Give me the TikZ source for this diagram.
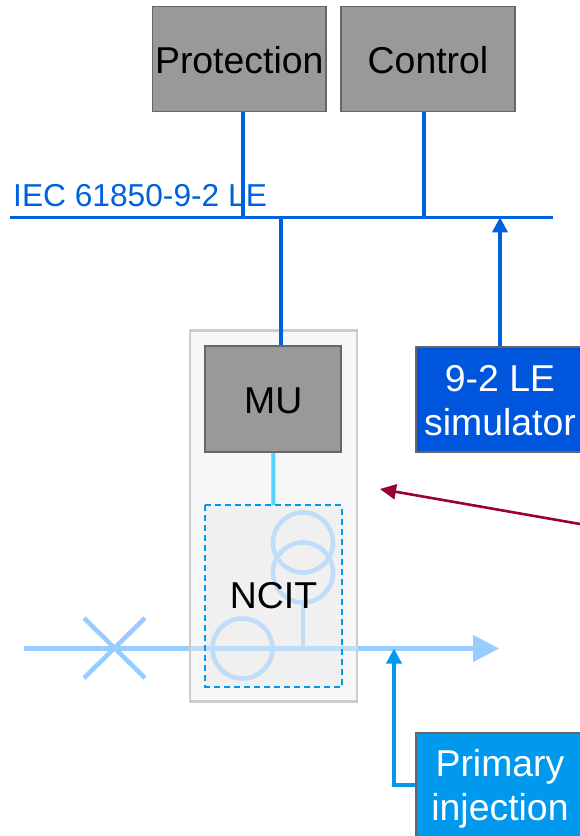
\documentclass[tikz,border=0pt]{standalone}
\usepackage{fontspec}
\setmainfont{Liberation Sans}
\usetikzlibrary{arrows.meta}
\definecolor{grayfill}{HTML}{999999}
\definecolor{grayline}{HTML}{666666}
\definecolor{busblue}{HTML}{0061E0}
\definecolor{simblue}{HTML}{0055DD}
\definecolor{injblue}{HTML}{0099EE}
\definecolor{lineblue}{HTML}{99CCFF}
\definecolor{lightline}{HTML}{BFDDF8}
\definecolor{cyanline}{HTML}{55D5FF}
\definecolor{maroon}{HTML}{990033}
\tikzset{
  x=1pt,y=-1pt,
  graybox/.style={draw=grayline,fill=grayfill,line width=1.8pt,inner sep=0pt,text=black,minimum width=#1,font=\fontsize{37.4}{40}\selectfont,text height=29pt,text depth=0pt},
  colorbox/.style={draw=grayline,fill=#1,line width=2pt,minimum width=168pt,inner sep=0pt},
  boxtext/.style={inner sep=0pt,text=white,align=center,font=\fontsize{37.4}{44}\selectfont},
  bus/.style={draw=busblue,line width=3.6pt},
  lt/.style={draw=lightline,line width=4.6pt},
  lb/.style={draw=lineblue,line width=4.6pt},
  ring/.style={circle,draw=lightline,line width=4.6pt,minimum size=60pt,inner sep=0pt},
  tri/.style={-{Triangle[length=15pt,width=15pt]}},
}
\begin{document}
\begin{tikzpicture}
\useasboundingbox (0,0) rectangle (580,836);
\clip (0,0) rectangle (580,836);
% line (strong colour outside the enclosure)
\coordinate (lineL) at (24,648.5);
\coordinate (lineR) at (499,648.5);
\coordinate (injT) at (394,648.5);
\draw[lb,-{Triangle[length=26pt,width=26pt,fill=lineblue]}] (lineL) -- (lineR);
\draw[lb] (84,618) -- (145,678);
\draw[lb] (145,618) -- (84,678);
% enclosure
\node[draw=black!20,fill=black!3,line width=1.6pt,minimum width=166pt,minimum height=370pt,inner sep=0pt] (encl) at (273.5,516) {};
\node[fill=black!6,minimum width=136pt,minimum height=181pt,inner sep=0pt] (ncit) at (273.5,596) {};
% veiled part of the line
\draw[lt] (encl.west |- lineL) -- (encl.east |- lineL);
\node[ring] (ct) at (242.5,648.5) {};
\node[ring] (vt1) at (303,542.5) {};
\node[ring] (vt2) at (303,572.5) {};
\draw[lt] (vt2.south) -- (303,648.5);
\draw[draw=injblue,dash pattern=on 6pt off 4pt,line width=2pt] (ncit.north west) rectangle (ncit.south east);
\draw[draw=black!20,line width=1.6pt] (encl.north west) rectangle (encl.south east);
% top boxes
\node[graybox=173.5pt,minimum height=105pt] (prot) at (239.25,59) {Protection};
\node[graybox=174pt,minimum height=105pt] (ctrl) at (428,59) {Control};
\node[graybox=136pt,minimum height=106pt] (mu) at (273.25,399) {MU};
% coloured boxes
\node[colorbox=simblue,minimum height=105pt] (sim) at (500,399.5) {};
\node[boxtext] (simt) at (500,401) {9-2 LE\\[0pt]simulator};
\node[colorbox=injblue,minimum height=112pt] (inj) at (500,789) {};
\node[boxtext] (injt) at (500,789) {Primary\\[0pt]injection};
% bus
\coordinate (busL) at (10,217.3);
\coordinate (busR) at (553,217.3);
\coordinate (protB) at (243,217.3);
\coordinate (ctrlB) at (424,217.3);
\coordinate (muB) at (281,217.3);
\coordinate (simB) at (500,217.3);
\draw[bus] (busL) -- (busR);
\draw[bus] (prot.south -| protB) -- (protB);
\draw[bus] (ctrl.south -| ctrlB) -- (ctrlB);
\draw[bus] (muB) -- (mu.north -| muB);
\draw[bus,tri] (sim.north) -- (simB);
\node[anchor=base west,inner sep=0pt,text=busblue,font=\fontsize{31.7}{34}\selectfont] (iec) at (13,206) {IEC 61850-9-2 LE};
% MU to NCIT
\draw[draw=cyanline,line width=4pt] (mu.south) -- (ncit.north);
\node[font=\fontsize{37.4}{40}\selectfont,inner sep=0pt] (nt) at (273.5,596) {NCIT};
% injection arrow
\coordinate (injC) at (394,785);
\draw[draw=injblue,line width=3.6pt,tri] (inj.west |- injC) -- (injC) -- (injT);
% maroon arrow
\coordinate (mR) at (580,524);
\coordinate (mL) at (380,489);
\draw[draw=maroon,line width=2.6pt,-{Triangle[length=16pt,width=15pt]}] (mR) -- (mL);
\end{tikzpicture}
\end{document}
